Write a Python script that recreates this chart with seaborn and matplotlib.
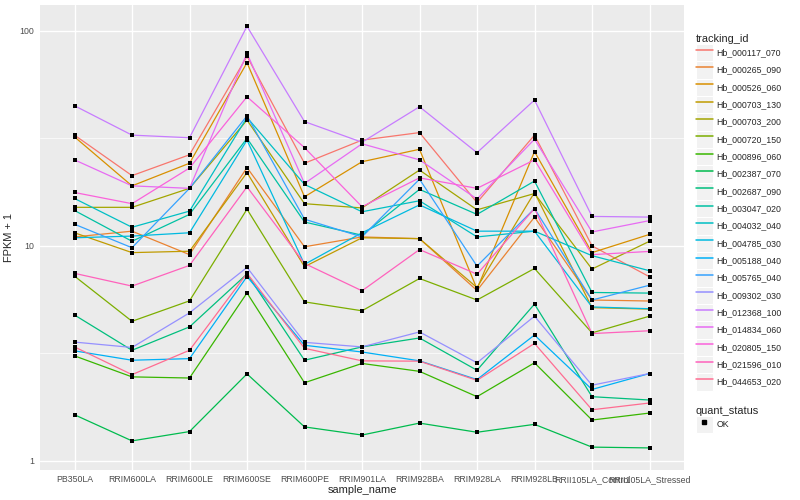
import pandas as pd
import matplotlib.pyplot as plt
import seaborn as sns
from matplotlib.lines import Line2D
from matplotlib.patches import Rectangle
from matplotlib.legend_handler import HandlerLine2D
from matplotlib.ticker import FixedLocator, FixedFormatter, NullFormatter

# categoriile de pe axa x
samples = ["PB350LA", "RRIM600LA", "RRIM600LE", "RRIM600SE", "RRIM600PE",
           "RRIM901LA", "RRIM928BA", "RRIM928LA", "RRIM928LB",
           "RRII105LA_Control", "RRII105LA_Stressed"]

tracking_ids = ["Hb_000117_070", "Hb_000265_090", "Hb_000526_060", "Hb_000703_130",
                "Hb_000703_200", "Hb_000720_150", "Hb_000896_060", "Hb_002387_070",
                "Hb_002687_090", "Hb_003047_020", "Hb_004032_040", "Hb_004785_030",
                "Hb_005188_040", "Hb_005765_040", "Hb_009302_030", "Hb_012368_100",
                "Hb_014834_060", "Hb_020805_150", "Hb_021596_010", "Hb_044653_020"]

# paleta hue din ggplot pentru 20 de nivele
colors = ["#F8766D", "#EA8331", "#D89000", "#C09B00", "#A3A500", "#7CAE00", "#39B600",
          "#00BB4E", "#00BF7D", "#00C1A3", "#00BFC4", "#00BAE0", "#00B0F6", "#35A2FF",
          "#9590FF", "#C77CFF", "#E76BF3", "#FA62DB", "#FF62BC", "#FF6C91"]

# valorile FPKM + 1
hb_000117_070 = [32.7, 21.2, 26.5, 76.0, 24.2, 31.0, 33.6, 15.9, 32.7, 10.0, 7.18]
hb_000265_090 = [11.0, 11.7, 9.1, 23.1, 9.9, 11.0, 10.8, 6.2, 13.6, 5.6, 5.54]
hb_000526_060 = [32.1, 19.0, 24.2, 71.0, 16.9, 24.6, 28.1, 6.3, 27.4, 9.3, 11.3]
hb_000703_130 = [11.5, 9.3, 9.44, 21.9, 8.0, 10.9, 10.8, 6.4, 17.7, 5.16, 5.08]
hb_000703_200 = [15.1, 15.1, 18.5, 38.4, 15.7, 15.0, 22.5, 14.7, 17.5, 7.8, 10.5]
hb_000720_150 = [7.23, 4.46, 5.55, 14.8, 5.49, 4.99, 7.05, 5.60, 7.85, 3.94, 4.71]
hb_000896_060 = [3.08, 2.46, 2.43, 6.04, 2.31, 2.84, 2.61, 1.99, 2.86, 1.55, 1.67]
hb_002387_070 = [1.64, 1.24, 1.37, 2.54, 1.44, 1.32, 1.50, 1.36, 1.48, 1.16, 1.15]
hb_002687_090 = [4.77, 3.27, 4.20, 7.4, 2.94, 3.39, 3.73, 2.64, 5.36, 1.99, 1.92]
hb_003047_020 = [14.6, 10.5, 14.0, 31.6, 12.9, 11.2, 18.3, 14.0, 20.0, 6.07, 6.03]
hb_004032_040 = [16.6, 12.2, 14.5, 39.5, 19.3, 14.4, 16.2, 11.0, 11.7, 9.0, 7.66]
hb_004785_030 = [10.9, 11.1, 11.5, 31.0, 8.2, 11.5, 15.5, 11.7, 11.7, 5.2, 5.1]
hb_005188_040 = [3.25, 2.94, 2.99, 7.2, 3.45, 3.21, 2.92, 2.39, 3.85, 2.15, 2.55]
hb_005765_040 = [12.6, 9.8, 18.5, 40.2, 13.3, 11.0, 20.4, 8.05, 14.9, 5.6, 6.56]
hb_009302_030 = [3.57, 3.37, 4.88, 7.94, 3.56, 3.39, 3.98, 2.86, 4.71, 2.25, 2.55]
hb_012368_100 = [44.8, 32.7, 31.8, 104.8, 37.8, 30.3, 44.3, 27.1, 47.6, 13.7, 13.6]
hb_014834_060 = [25.1, 19.0, 18.5, 78.5, 19.5, 29.8, 25.1, 16.5, 31.3, 11.6, 13.1]
hb_020805_150 = [17.7, 15.7, 23.0, 49.3, 28.6, 15.2, 20.7, 18.5, 25.1, 9.1, 9.42]
hb_021596_010 = [7.45, 6.50, 8.11, 18.8, 8.28, 6.18, 9.61, 7.38, 14.9, 3.91, 4.03]
hb_044653_020 = [3.39, 2.52, 3.27, 7.45, 3.34, 2.92, 2.91, 2.37, 3.52, 1.73, 1.86]

all_values = [hb_000117_070, hb_000265_090, hb_000526_060, hb_000703_130, hb_000703_200,
              hb_000720_150, hb_000896_060, hb_002387_070, hb_002687_090, hb_003047_020,
              hb_004032_040, hb_004785_030, hb_005188_040, hb_005765_040, hb_009302_030,
              hb_012368_100, hb_014834_060, hb_020805_150, hb_021596_010, hb_044653_020]

# construim tabelul in format lung
rows = []
for tid, vals in zip(tracking_ids, all_values):
    for s, v in zip(samples, vals):
        rows.append({"tracking_id": tid, "sample_name": s, "fpkm": v, "quant_status": "OK"})
data = pd.DataFrame(rows)

sns.set_style("darkgrid", {"axes.facecolor": "#EBEBEB", "grid.color": "white"})
plt.rcParams["font.family"] = ["Liberation Sans", "DejaVu Sans"]

fig = plt.figure(figsize=(8, 5), dpi=100)
ax = fig.add_axes([40 / 800, 1 - 469.8 / 500, 644 / 800, 464.5 / 500])

sns.lineplot(data=data, x="sample_name", y="fpkm", hue="tracking_id",
             hue_order=tracking_ids, palette=colors, estimator=None,
             errorbar=None, linewidth=0.9, legend=False, ax=ax)
sns.scatterplot(data=data, x="sample_name", y="fpkm", color="black", marker="s",
                s=8, linewidth=0, legend=False, ax=ax, zorder=5)

ax.set_yscale("log")
ax.set_ylim(10 ** -0.041, 10 ** 2.118)
ax.set_xlim(-0.6, len(samples) - 0.4)
ax.yaxis.set_major_locator(FixedLocator([1, 10, 100]))
ax.yaxis.set_major_formatter(FixedFormatter(["1", "10", "100"]))
ax.yaxis.set_minor_locator(FixedLocator([10 ** 0.5, 10 ** 1.5]))
ax.yaxis.set_minor_formatter(NullFormatter())
ax.grid(which="major", color="white", linewidth=1.0)
ax.grid(which="minor", axis="y", color="white", linewidth=0.5)
ax.tick_params(which="major", length=2.5, width=0.6, color="#333333",
               labelsize=6.3, labelcolor="#4D4D4D", pad=1.5)
ax.tick_params(which="minor", length=0)
for sp in ax.spines.values():
    sp.set_visible(False)

ax.set_xlabel("sample_name", fontsize=7.9, labelpad=0.5)
ax.set_ylabel("FPKM + 1", fontsize=7.9, labelpad=4)


# cheie de legenda cu fundal gri, ca in ggplot
class KeyHandler(HandlerLine2D):
    def create_artists(self, legend, orig_handle, xdescent, ydescent, width, height, fontsize, trans):
        box = Rectangle((-xdescent, -ydescent), width, height, facecolor="#F2F2F2",
                        edgecolor="white", linewidth=0.8, transform=trans)
        arts = super().create_artists(legend, orig_handle, xdescent, ydescent,
                                      width, height, fontsize, trans)
        return [box] + arts


handles = [Line2D([], [], color=c, linewidth=1.1) for c in colors]
leg1 = fig.legend(handles, tracking_ids, loc="upper left",
                  bbox_to_anchor=(696 / 800, 1 - 34 / 500), frameon=False,
                  title="tracking_id", fontsize=6.3, title_fontsize=7.9,
                  handlelength=1.9, handleheight=2.67, labelspacing=0,
                  handletextpad=0.45, borderpad=0, borderaxespad=0,
                  alignment="left", handler_map={Line2D: KeyHandler()})

ok_handle = [Line2D([], [], linestyle="none", marker="s", color="black", markersize=2.8)]
leg2 = fig.legend(ok_handle, ["OK"], loc="upper left",
                  bbox_to_anchor=(696 / 800, 1 - 406 / 500), frameon=False,
                  title="quant_status", fontsize=6.3, title_fontsize=7.9,
                  handlelength=1.9, handleheight=2.67, labelspacing=0,
                  handletextpad=0.45, borderpad=0, borderaxespad=0,
                  alignment="left", handler_map={Line2D: KeyHandler()})

fig.savefig("out.png", dpi=100)
